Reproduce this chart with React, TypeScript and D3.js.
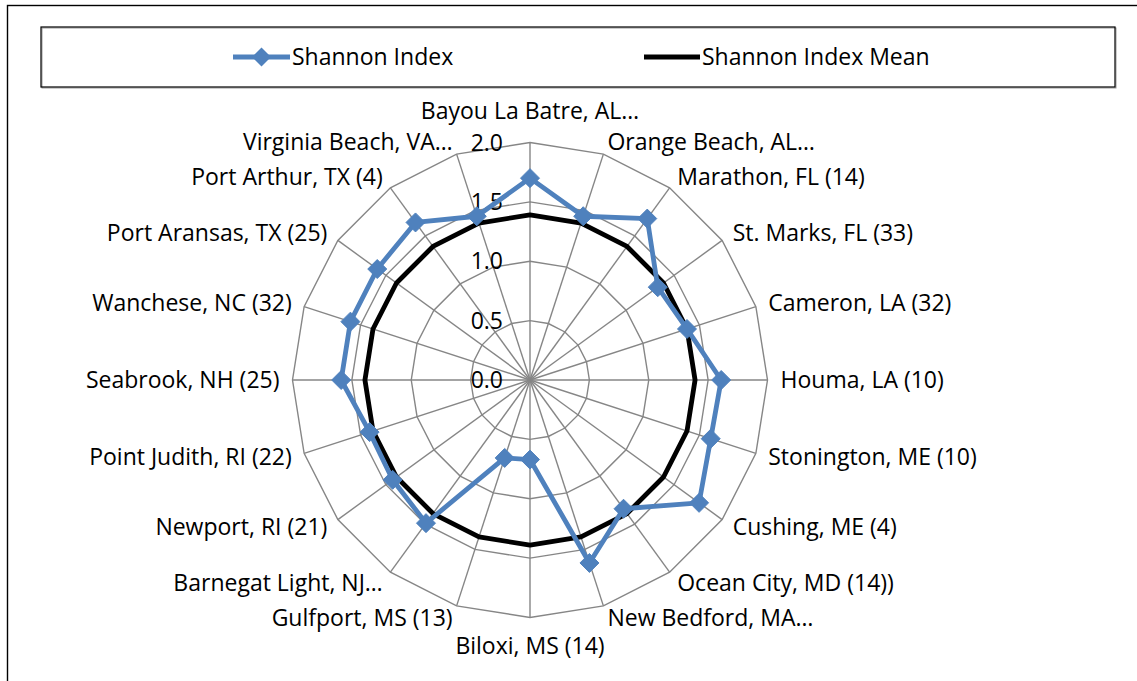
import React, { useEffect, useRef } from 'react';
import * as d3 from 'd3';

const categories = [
  'Bayou La Batre, AL…', 'Orange Beach, AL…', 'Marathon, FL (14)', 'St. Marks, FL (33)',
  'Cameron, LA (32)', 'Houma, LA (10)', 'Stonington, ME (10)', 'Cushing, ME (4)',
  'Ocean City, MD (14))', 'New Bedford, MA…', 'Biloxi, MS (14)', 'Gulfport, MS (13)',
  'Barnegat Light, NJ…', 'Newport, RI (21)', 'Point Judith, RI (22)', 'Seabrook, NH (25)',
  'Wanchese, NC (32)', 'Port Aransas, TX (25)', 'Port Arthur, TX (4)', 'Virginia Beach, VA…'
];
const shannonIndex = [1.70, 1.45, 1.68, 1.33, 1.39, 1.61, 1.60, 1.76, 1.34, 1.62,
  0.67, 0.69, 1.49, 1.43, 1.42, 1.59, 1.59, 1.59, 1.64, 1.45];
const shannonMean = categories.map(() => 1.39);
const ticks = [0, 0.5, 1.0, 1.5, 2.0];
const seriesNames = ['Shannon Index', 'Shannon Index Mean'];

const FONT = '"Open Sans", "Noto Sans", sans-serif';
const FS = 23;
const BLUE = '#4f81bd';
const GRID = '#868686';

export default function App() {
  const ref = useRef<SVGSVGElement>(null);

  useEffect(() => {
    const svg = d3.select(ref.current);
    svg.selectAll('*').remove();

    const cx = 530, cy = 380, R = 237.5;
    const n = categories.length;

    // outer chart frame (extends past the window)
    svg.append('rect')
      .attr('x', 7.5).attr('y', 5.5)
      .attr('width', 1200).attr('height', 800)
      .attr('fill', 'none').attr('stroke', '#000').attr('stroke-width', 1.4);

    // legend box
    svg.append('rect')
      .attr('x', 42).attr('y', 28).attr('width', 1074).attr('height', 60)
      .attr('fill', 'none').attr('stroke', '#9a9a9a').attr('stroke-width', 1);
    svg.append('rect')
      .attr('x', 41).attr('y', 27).attr('width', 1074).attr('height', 60)
      .attr('fill', 'none').attr('stroke', '#000').attr('stroke-width', 1.2);

    const g = svg.append('g').attr('transform', `translate(${cx},${cy})`);

    const r = d3.scaleLinear().domain([0, 2]).range([0, R]);
    const angle = d3.scaleLinear().domain([0, n]).range([0, 2 * Math.PI]);
    const pt = (i: number, v: number): [number, number] => [
      r(v) * Math.sin(angle(i)), -r(v) * Math.cos(angle(i))
    ];

    // rings
    ticks.slice(1).forEach(t => {
      g.append('path')
        .datum(categories.map((_, i) => pt(i, t)))
        .attr('d', d3.line().curve(d3.curveLinearClosed))
        .attr('fill', 'none').attr('stroke', GRID).attr('stroke-width', 1.4);
    });

    // spokes
    categories.forEach((_, i) => {
      const [x, y] = pt(i, 2);
      g.append('line')
        .attr('x1', 0).attr('y1', 0).attr('x2', x).attr('y2', y)
        .attr('stroke', GRID).attr('stroke-width', 1.4);
    });

    // tick labels
    ticks.forEach(t => {
      g.append('text')
        .attr('x', -27).attr('y', -r(t))
        .attr('dy', '0.35em')
        .attr('text-anchor', 'end')
        .attr('font-family', FONT).attr('font-size', FS)
        .attr('fill', '#000')
        .text(t.toFixed(1));
    });

    // category labels
    categories.forEach((c, i) => {
      const a = angle(i);
      const s = Math.sin(a), co = Math.cos(a);
      const [x, y] = [(R + 13) * s, -(R + 13) * co];
      let anchor = 'middle', dy = '0.35em';
      if (s > 0.01) anchor = 'start';
      else if (s < -0.01) anchor = 'end';
      else if (co > 0) dy = '-0.45em';
      else dy = '1em';
      g.append('text')
        .attr('x', x).attr('y', y).attr('dy', dy)
        .attr('text-anchor', anchor)
        .attr('font-family', FONT).attr('font-size', FS)
        .attr('fill', '#000')
        .text(c);
    });

    // mean line
    g.append('path')
      .datum(shannonMean.map((v, i) => pt(i, v)))
      .attr('d', d3.line().curve(d3.curveLinearClosed))
      .attr('fill', 'none').attr('stroke', '#000').attr('stroke-width', 4.8)
      .attr('stroke-linejoin', 'round');

    // shannon index line
    g.append('path')
      .datum(shannonIndex.map((v, i) => pt(i, v)))
      .attr('d', d3.line().curve(d3.curveLinearClosed))
      .attr('fill', 'none').attr('stroke', BLUE).attr('stroke-width', 4.8)
      .attr('stroke-linejoin', 'round');

    const diamond = (x: number, y: number, h: number) =>
      `M${x},${y - h}L${x + h},${y}L${x},${y + h}L${x - h},${y}Z`;

    g.selectAll('path.marker')
      .data(shannonIndex)
      .enter().append('path')
      .attr('class', 'marker')
      .attr('d', (v, i) => { const [x, y] = pt(i, v); return diamond(x, y, 9.5); })
      .attr('fill', BLUE).attr('stroke', BLUE).attr('stroke-width', 1);

    // legend entries
    const lg = svg.append('g');
    lg.append('line').attr('x1', 233).attr('x2', 290).attr('y1', 57).attr('y2', 57)
      .attr('stroke', BLUE).attr('stroke-width', 4.8);
    lg.append('path').attr('d', diamond(261.5, 57, 9.5)).attr('fill', BLUE);
    lg.append('text').attr('x', 292).attr('y', 57).attr('dy', '0.35em')
      .attr('font-family', FONT).attr('font-size', FS).text(seriesNames[0]);
    lg.append('line').attr('x1', 644).attr('x2', 700).attr('y1', 57).attr('y2', 57)
      .attr('stroke', '#000').attr('stroke-width', 4.8);
    lg.append('text').attr('x', 702).attr('y', 57).attr('dy', '0.35em')
      .attr('font-family', FONT).attr('font-size', FS).text(seriesNames[1]);
  }, []);

  return (
    <svg ref={ref} width={1137} height={681}
      style={{ position: 'absolute', left: 0, top: 0, background: '#fff' }} />
  );
}
